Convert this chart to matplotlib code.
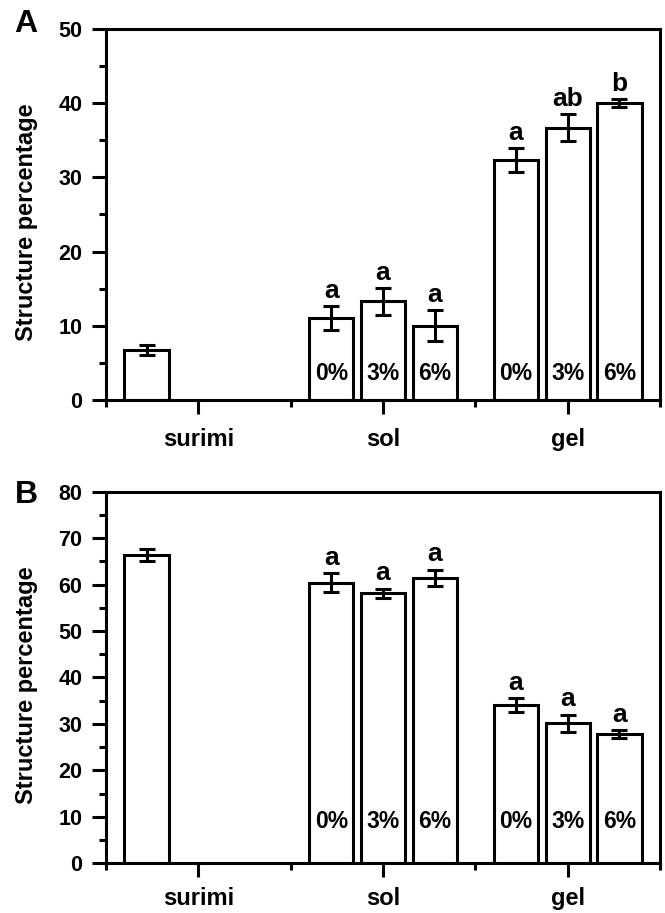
import matplotlib
matplotlib.use("Agg")
import matplotlib.pyplot as plt
import numpy as np

plt.rcParams['font.family'] = ['Liberation Sans', 'DejaVu Sans']
plt.rcParams['font.weight'] = 'bold'

# data
groups = ["surimi", "sol", "gel"]
conc = ["0%", "3%", "6%"]

a_surimi, a_surimi_err = 6.7, 0.7
a_sol = [11.0, 13.3, 10.0]
a_sol_err = [1.6, 1.8, 2.1]
a_gel = [32.3, 36.7, 40.0]
a_gel_err = [1.6, 1.8, 0.5]
a_sol_letters = ["a", "a", "a"]
a_gel_letters = ["a", "ab", "b"]

b_surimi, b_surimi_err = 66.3, 1.3
b_sol = [60.4, 58.1, 61.4]
b_sol_err = [2.0, 1.0, 1.8]
b_gel = [34.1, 30.1, 27.8]
b_gel_err = [1.5, 1.9, 0.8]
b_sol_letters = ["a", "a", "a"]
b_gel_letters = ["a", "a", "a"]

offsets = np.array([-0.28, 0.0, 0.28])
width = 0.24
LW = 2.2


def panel(ax, surimi, surimi_err, sol, sol_err, gel, gel_err,
          sol_let, gel_let, ymax, pct_y, xpad):
    kw = dict(width=width, color='white', edgecolor='black', linewidth=LW,
              error_kw=dict(elinewidth=LW, capthick=LW), capsize=6, ecolor='black')
    ax.bar(0 + offsets[0], surimi, yerr=surimi_err, **kw)
    for gi, vals, errs, lets in [(1, sol, sol_err, sol_let), (2, gel, gel_err, gel_let)]:
        xs = gi + offsets
        ax.bar(xs, vals, yerr=errs, **kw)
        for x, v, e, l, c in zip(xs, vals, errs, lets, conc):
            ax.annotate(l, (x, v + e), xytext=(0, 6), textcoords='offset points',
                        ha='center', va='baseline', fontsize=19, fontweight='bold')
            ax.text(x, pct_y, c, ha='center', va='center', fontsize=16.5, fontweight='bold')

    ax.set_xlim(-0.5, 2.5)
    ax.set_ylim(0, ymax)
    ax.set_xticks(range(3))
    ax.set_xticklabels(groups, fontsize=17, fontweight='bold')
    ax.set_xticks([-0.5, 0.5, 1.5, 2.5], minor=True)
    ax.set_yticks(np.arange(0, ymax + 1, 10))
    ax.set_yticks(np.arange(5, ymax, 10), minor=True)
    for lab in ax.get_yticklabels():
        lab.set_fontsize(15.5)
        lab.set_fontweight('bold')
    ax.tick_params(axis='both', which='major', length=10, width=LW, pad=7)
    ax.tick_params(axis='both', which='minor', length=5, width=LW)
    ax.tick_params(axis='x', which='major', pad=xpad)
    for s in ax.spines.values():
        s.set_linewidth(LW)
    ax.set_ylabel("Structure percentage", fontsize=17, fontweight='bold')
    ax.yaxis.set_label_coords(-0.122, 0.48)


fig = plt.figure(figsize=(6.65, 9.13), dpi=100)
axA = fig.add_axes([0.1594, 0.5619, 0.8331, 0.4064])
axB = fig.add_axes([0.1594, 0.0544, 0.8331, 0.4071])

panel(axA, a_surimi, a_surimi_err, a_sol, a_sol_err, a_gel, a_gel_err,
      a_sol_letters, a_gel_letters, 50, 3.6, 10)
panel(axB, b_surimi, b_surimi_err, b_sol, b_sol_err, b_gel, b_gel_err,
      b_sol_letters, b_gel_letters, 80, 9.0, 7)

fig.text(0.022, 0.965, "A", fontsize=23, fontweight='bold', va='baseline')
fig.text(0.022, 0.449, "B", fontsize=23, fontweight='bold', va='baseline')

fig.savefig("out.png", dpi=100)
